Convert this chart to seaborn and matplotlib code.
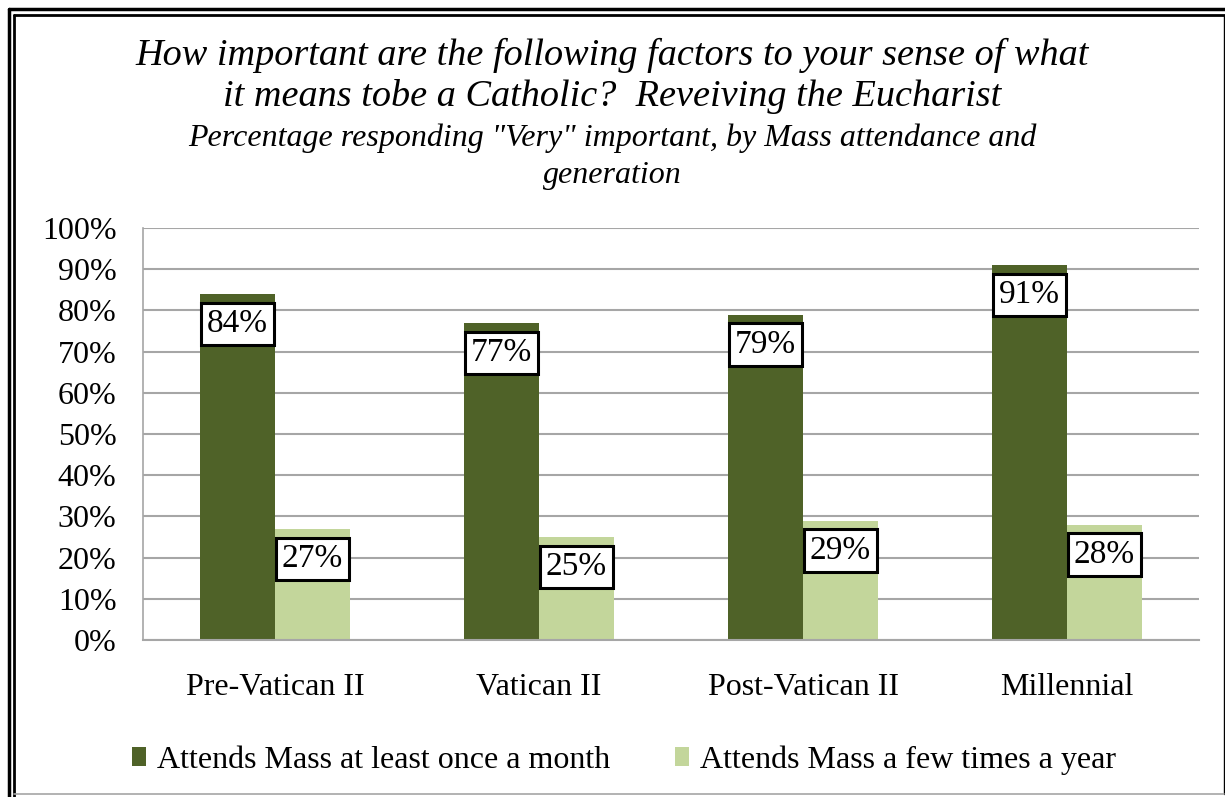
import numpy as np
import pandas as pd
import matplotlib
matplotlib.use("Agg")
import matplotlib.pyplot as plt
from matplotlib.lines import Line2D
from matplotlib.ticker import PercentFormatter
import seaborn as sns

# Data
generations = ["Pre-Vatican II", "Vatican II", "Post-Vatican II", "Millennial"]
monthly = [84, 77, 79, 91]
few_times = [27, 25, 29, 28]
series_names = ["Attends Mass at least once a month", "Attends Mass a few times a year"]
colors = ["#4F6228", "#C3D69B"]

df = pd.DataFrame({
    "generation": generations * 2,
    "value": monthly + few_times,
    "series": [series_names[0]] * 4 + [series_names[1]] * 4,
})

sns.set_style("white")
plt.rcParams["font.family"] = ["Liberation Serif", "DejaVu Serif"]
plt.rcParams["text.color"] = "black"

fig = plt.figure(figsize=(12.25, 7.97), dpi=100)
ax = fig.add_axes([143 / 1225, 1 - 640 / 797, 1056 / 1225, 412 / 797])

sns.barplot(data=df, x="generation", y="value", hue="series", palette=colors,
            width=0.568, gap=0, saturation=1, ax=ax, edgecolor="none")

ax.set_ylim(0, 100)
ax.set_xlim(-0.5, 3.5)
ax.set_yticks(np.arange(0, 101, 10))
ax.yaxis.set_major_formatter(PercentFormatter(decimals=0))
ax.yaxis.grid(True, color="#A6A6A6", linewidth=1.5)
ax.set_axisbelow(True)
ax.set_xlabel("")
ax.set_ylabel("")
for s in ["top", "right"]:
    ax.spines[s].set_visible(False)
ax.spines["left"].set_color("#A6A6A6")
ax.spines["bottom"].set_color("#A6A6A6")
ax.spines["left"].set_linewidth(1.2)
ax.spines["bottom"].set_linewidth(1.5)

# x ticks at category boundaries, labels centered
ax.set_xticks([-0.5, 0.5, 1.5, 2.5, 3.5])
ax.set_xticklabels([])
ax.set_xticks(range(4), minor=True)
ax.set_xticklabels(generations, minor=True, fontsize=23)
ax.tick_params(axis="x", which="major", length=8, width=1.2, color="#A6A6A6", direction="out")
ax.tick_params(axis="x", which="minor", length=0, pad=24, labelcolor="black")
ax.tick_params(axis="y", length=8, width=1.2, color="#A6A6A6", direction="out",
               labelsize=23, pad=11, labelcolor="black")

# value labels in boxes just under the top of each bar
for cont in ax.containers:
    for bar in cont:
        h = bar.get_height()
        ax.annotate(f"{h:.0f}%", (bar.get_x() + bar.get_width() / 2, h),
                    xytext=(0, -30), textcoords="offset pixels",
                    ha="center", va="center", fontsize=24, color="black",
                    bbox=dict(boxstyle="square,pad=0.18", fc="white", ec="black", lw=2.2))

leg = ax.legend(loc="center", bbox_to_anchor=(624 / 1225, 1 - 760 / 797), bbox_transform=fig.transFigure,
                ncol=2, frameon=False, fontsize=23, handlelength=0.45, handleheight=0.5,
                handletextpad=0.35, columnspacing=2.0)

fig.text(0.5, 1 - 55 / 797, "How important are the following factors to your sense of what",
         ha="center", va="center", fontsize=27.5, style="italic")
fig.text(0.5, 1 - 96 / 797, "it means tobe a Catholic?  Reveiving the Eucharist",
         ha="center", va="center", fontsize=27.5, style="italic")
fig.text(0.5, 1 - 138 / 797, "Percentage responding \"Very\" important, by Mass attendance and",
         ha="center", va="center", fontsize=23, style="italic")
fig.text(0.5, 1 - 176 / 797, "generation",
         ha="center", va="center", fontsize=23, style="italic")

# double frame around the chart
def px_line(x0, y0, x1, y1, lw, color="black"):
    fig.add_artist(Line2D([x0 / 1225, x1 / 1225], [1 - y0 / 797, 1 - y1 / 797],
                          transform=fig.transFigure, color=color, linewidth=lw))

px_line(8.5, 9, 8.5, 797, 2.5)
px_line(14, 14.5, 14, 797, 2.0)
px_line(8.5, 9, 1225, 9, 2.5)
px_line(14, 14.5, 1225, 14.5, 2.0)
px_line(1223.5, 14.5, 1223.5, 794, 1.0)
px_line(14, 794, 1224, 794, 1.2, "#A6A6A6")

fig.savefig("out.png", dpi=100, facecolor="white")
